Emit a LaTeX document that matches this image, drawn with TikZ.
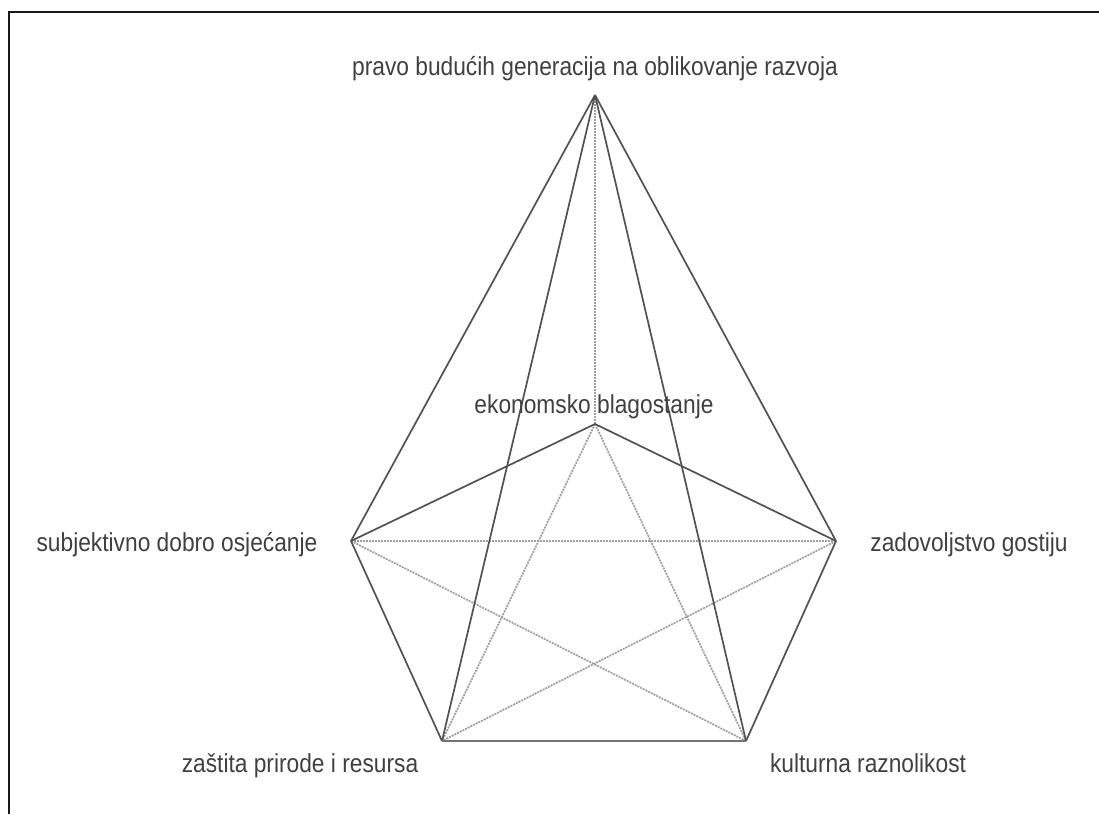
\documentclass[tikz,border=0pt]{standalone}
\usepackage{fontspec}
\setmainfont{Liberation Sans}
\tikzset{
  px/.style={x=1pt,y=-1pt},
  solidedge/.style={draw=black!68,line width=1.7pt},
  baseedge/.style={draw=black!55,line width=2.2pt},
  dotedge/.style={draw=black!38,line width=1.7pt,dash pattern=on 2pt off 1pt},
  lbl/.style={anchor=base,inner sep=0pt,text=black!75,font=\fontsize{26}{29}\selectfont},
  frameline/.style={draw=black!90,line width=2.4pt}
}
\newcommand{\cond}[1]{\scalebox{0.875}[1]{#1}}
\begin{document}
\begin{tikzpicture}[px]
\useasboundingbox (0,0) rectangle (1099,814);
\fill[white] (0,0) rectangle (1099,814);
\coordinate (fa) at (9,814);
\coordinate (fb) at (9,12);
\coordinate (fc) at (1099,12);
\draw[frameline] (fa) -- (fb) -- (fc);
\coordinate (T) at (595,95);
\coordinate (C) at (595,424);
\coordinate (L) at (351,541);
\coordinate (R) at (836,541);
\coordinate (BL) at (442,741);
\coordinate (BR) at (746,741);
\draw[dotedge] (T) -- (C);
\draw[dotedge] (L) -- (R);
\draw[dotedge] (L) -- (BR);
\draw[dotedge] (R) -- (BL);
\draw[dotedge] (C) -- (BL);
\draw[dotedge] (C) -- (BR);
\draw[solidedge] (T) -- (L);
\draw[solidedge] (T) -- (R);
\draw[solidedge] (T) -- (BL);
\draw[solidedge] (T) -- (BR);
\draw[solidedge] (C) -- (L);
\draw[solidedge] (C) -- (R);
\draw[solidedge] (L) -- (BL);
\draw[solidedge] (R) -- (BR);
\draw[baseedge] (BL) -- (BR);
\node[lbl] (nT) at (595,75) {\cond{pravo budućih generacija na oblikovanje razvoja}};
\node[lbl] (nC) at (594,413) {\cond{ekonomsko blagostanje}};
\node[lbl] (nL) at (177,551) {\cond{subjektivno dobro osjećanje}};
\node[lbl] (nR) at (969,551) {\cond{zadovoljstvo gostiju}};
\node[lbl] (nBL) at (300,772) {\cond{zaštita prirode i resursa}};
\node[lbl] (nBR) at (868,772) {\cond{kulturna raznolikost}};
\end{tikzpicture}
\end{document}
